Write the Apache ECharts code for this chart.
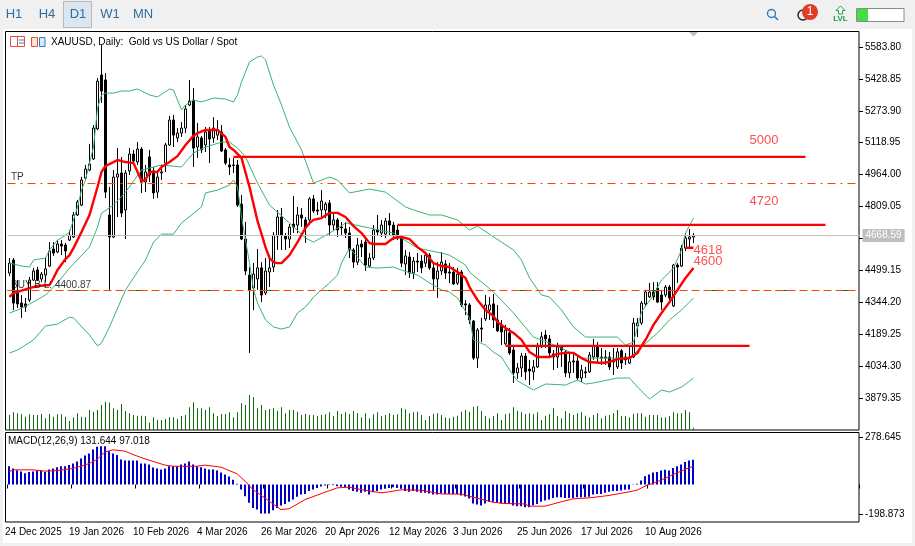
<!DOCTYPE html>
<html><head><meta charset="utf-8">
<style>html,body{margin:0;padding:0;background:#f0f0f0}#c{width:915px;height:546px}</style>
<script src="https://cdn.jsdelivr.net/npm/echarts@6/dist/echarts.min.js"></script>
</head><body><div id="c"></div>
<script>
// each row: open, close, low, high
const ohlc=[
[4486,4534,4471,4559],[4549,4340,4306,4559],[4394,4336,4316,4452],[4340,4321,4268,4379],[4336,4321,4297,4365],[4355,4452,4345,4467],[4452,4496,4447,4511],[4501,4452,4447,4516],[4457,4481,4442,4491],[4476,4506,4442,4559],
[4520,4593,4515,4636],[4603,4583,4569,4636],[4588,4627,4583,4646],[4627,4617,4573,4646],[4622,4593,4539,4632],[4646,4670,4641,4695],[4661,4768,4656,4782],[4768,4831,4763,4841],[4816,4938,4812,4953],[4947,4991,4938,5011],
[4986,5016,4981,5113],[5040,5190,5035,5205],[5186,5418,5181,5433],[5448,5370,5312,5593],[5424,4879,4850,5457],[4768,4661,4404,4904],[4661,4952,4656,4986],[4952,4967,4758,5093],[4972,4777,4758,5050],[4792,4972,4651,4986],
[4982,5064,4962,5093],[5064,5030,5011,5084],[5025,5088,5011,5122],[5088,4928,4875,5098],[4928,4977,4879,5011],[5050,4962,4928,5084],[4982,4875,4846,5001],[4879,4952,4850,4986],[4972,4977,4938,5011],[5020,5108,4977,5118],
[5108,5229,5103,5249],[5229,5156,5098,5254],[5142,5166,5122,5190],[5166,5190,5147,5219],[5190,5283,5166,5302],[5302,5321,5297,5424],[5326,5093,5001,5385],[5098,5147,5045,5215],[5142,5084,5069,5152],[5108,5171,5074,5195],
[5181,5137,5020,5195],[5142,5190,5118,5243],[5156,5181,5132,5229],[5171,5079,5074,5205],[5084,5020,5011,5093],[5011,5001,4962,5045],[5008,5011,4972,5045],[5011,4816,4807,5035],[4821,4651,4646,4865],[4651,4496,4476,4734],
[4476,4404,4098,4515],[4413,4481,4306,4535],[4457,4511,4404,4603],[4511,4379,4345,4539],[4389,4496,4379,4559],[4491,4511,4418,4573],[4515,4670,4491,4685],[4666,4758,4598,4792],[4758,4670,4598,4802],[4666,4651,4598,4680],
[4651,4709,4608,4724],[4724,4709,4680,4860],[4719,4768,4680,4807],[4768,4753,4710,4802],[4744,4705,4632,4758],[4744,4846,4719,4855],[4846,4787,4777,4865],[4792,4787,4768,4831],[4792,4836,4753,4889],[4792,4821,4753,4831],
[4826,4719,4670,4841],[4719,4744,4690,4777],[4744,4695,4661,4753],[4710,4705,4666,4734],[4700,4680,4656,4734],[4680,4598,4559,4710],[4598,4539,4511,4607],[4539,4622,4525,4656],[4627,4612,4564,4646],[4636,4525,4496,4661],
[4520,4559,4511,4583],[4559,4695,4549,4719],[4695,4685,4670,4768],[4680,4719,4661,4744],[4675,4739,4656,4753],[4739,4719,4670,4777],[4719,4670,4646,4734],[4695,4656,4646,4719],[4656,4534,4515,4666],[4530,4569,4476,4598],
[4564,4486,4462,4588],[4486,4544,4457,4564],[4544,4539,4491,4583],[4544,4511,4486,4573],[4534,4573,4515,4588],[4573,4511,4501,4583],[4511,4457,4404,4539],[4457,4496,4365,4539],[4496,4539,4476,4588],[4530,4486,4457,4549],
[4491,4486,4437,4534],[4491,4433,4428,4515],[4437,4481,4428,4511],[4491,4331,4321,4501],[4336,4331,4282,4355],[4331,4258,4239,4340],[4253,4073,4064,4258],[4073,4209,4025,4219],[4219,4214,4151,4268],[4263,4331,4253,4379],
[4306,4331,4258,4370],[4336,4258,4219,4384],[4258,4205,4200,4331],[4234,4200,4137,4258],[4142,4209,4137,4234],[4195,4098,4088,4219],[4112,4001,3952,4137],[4001,4025,3972,4049],[4025,4083,3981,4098],[4083,4006,3966,4098],
[4020,4010,3942,4064],[4006,4030,3966,4064],[4030,4127,4025,4147],[4127,4176,4122,4200],[4185,4166,4122,4209],[4166,4098,4078,4185],[4093,4078,4015,4112],[4078,4127,4025,4147],[4127,4112,4030,4137],[4103,4001,3981,4112],
[4001,4054,3976,4103],[4059,4054,4001,4098],[4059,3976,3966,4078],[3976,4015,3957,4040],[4006,4001,3976,4030],[4006,4088,4001,4103],[4078,4132,4064,4166],[4132,4078,4054,4151],[4078,4073,4040,4122],[4073,4078,4040,4112],
[4078,4030,4015,4103],[4064,4054,3991,4122],[4030,4103,4020,4122],[4108,4049,4020,4117],[4078,4064,4040,4098],[4049,4078,4044,4137],[4078,4243,4073,4268],[4229,4243,4175,4268],[4243,4340,4234,4350],[4336,4394,4326,4404],
[4370,4394,4365,4438],[4394,4370,4355,4442],[4413,4345,4340,4442],[4379,4345,4306,4404],[4379,4418,4369,4428],[4418,4365,4355,4428],[4326,4525,4321,4530],[4525,4515,4438,4534],[4520,4607,4515,4622],[4607,4656,4593,4680],
[4651,4661,4612,4700],[4661,4668.59,4632,4680]];
// thousands of ticks
const volumes=[15,17.7,16.7,15.7,13.3,15.7,15,15,16,11.7,16,13.3,15.7,15.7,13.3,9,12.7,16.7,13.3,12.7,20,18.3,20,25,28.3,27.3,21.7,20,26,19,16.7,15,14.3,14.3,14,7.3,12.7,10,10,11,12.7,12.7,11,14,15,22.7,27.7,21.7,21.7,20,22.7,16.7,14,16,16,17.7,12.7,17.7,26.7,25,35,32.7,21.7,25,20,21,21.7,19.3,22.7,16.7,20,20,18.3,15,16,15,15,14,15,15.7,17.7,14,19,16,17.7,16,
19,16.7,12.7,16.7,11.7,15.7,17.7,14,15,16.7,15,15.7,21.7,20.7,16.7,17.7,18.3,15,10,14,16,16.7,15,12.7,11.7,13.3,14.3,18.3,20,18.3,23.3,24,19,14,11.7,14,16.7,10,15.7,16.7,22.7,19.3,17.7,16,16.7,15.7,17.7,10,14.3,15.7,21.7,14,11.7,19,16.7,15,16.7,17.7,14.3,12.7,15,16.7,11.7,14.3,15,16.7,20,14,14,12.7,16,16.7,16.7,13.3,15,15,15,12.7,12.7,14,17.7,16.7,16.7,20,17.7,2.3];
const macdHist=[97,85,76,69,60,67,69,74,74,67,80,85,92,97,97,103,111,122,138,154,165,186,200,203,203,177,165,156,133,127,127,127,127,111,111,106,90,85,80,85,97,97,97,106,111,122,106,97,92,85,80,80,74,64,53,42,25,4,
-27,-62,-97,-124,-133,-154,-154,-154,-136,-124,-111,-103,-92,-80,-65,-53,-50,-35,-27,-18,-11,-5,-2,-4,-9,-12,-14,-27,
-35,-39,-44,-39,-53,-41,-35,-27,-23,-18,-14,-18,-23,-35,-39,-35,-39,-44,-44,-48,-53,-53,-48,-50,-50,-50,-50,-58,-64,-74,-101,-106,-111,-101,-92,-92,-97,-101,-101,-103,-111,-115,-115,-120,-120,-110,-103,-92,-85,-80,-71,-67,-67,-71,-71,-71,-67,-67,-67,-65,-53,-50,-50,-44,-39,-35,-35,-32,-28,-27,
2,4,21,44,53,64,67,74,78,74,88,97,106,119,127,131.644];
// [bar number, value] vertices
const macdSignal=[[0,67],[1,78],[6,78],[9,71],[12,74],[16,85],[20,111],[22,133],[24,173],[26,184],[29,177],[31,159],[34,136],[39,103],[41,97],[47,97],[49,103],[53,92],[57,57],[59,18],[61,-27],[65,-88],[68,-133],[70,-129],[74,-80],[79,-41],[82,-18],[85,-14],[88,-27],[93,-44],[95,-39],[98,-28],[103,-30],[108,-50],[113,-51],[116,-67],[121,-94],[124,-101],[129,-103],[130,-115],[134,-115],[138,-92],[141,-76],[145,-71],[150,-58],[155,-39],[157,-30],[159,-9],[163,23],[166,53],[171,97.018]];
const maLine=[[0,4370],[1,4389],[2,4394],[5,4413],[7,4423],[10,4428],[11,4462],[12,4501],[14,4554],[15,4573],[16,4607],[18,4685],[20,4768],[22,4904],[23,4977],[24,5006],[26,5025],[27,5035],[29,5025],[31,5020],[33,4933],[34,4938],[35,4977],[37,4977],[38,5001],[40,5025],[42,5054],[44,5108],[46,5152],[47,5166],[49,5181],[52,5181],[54,5147],[55,5098],[56,5084],[58,5045],[60,4904],[62,4739],[64,4612],[65,4559],[66,4539],[67,4534],[68,4534],[70,4573],[72,4636],[74,4705],[75,4729],[76,4744],[78,4753],[80,4778],[82,4778],[84,4758],[86,4714],[88,4680],[90,4632],[91,4627],[94,4627],[96,4656],[98,4661],[100,4651],[102,4612],[104,4583],[106,4534],[108,4520],[110,4515],[112,4491],[114,4462],[115,4418],[117,4355],[119,4306],[121,4277],[122,4248],[124,4219],[126,4195],[128,4161],[130,4102],[132,4078],[135,4078],[137,4093],[139,4098],[141,4098],[143,4073],[145,4054],[148,4049],[150,4054],[152,4068],[155,4073],[157,4098],[158,4132],[159,4161],[161,4234],[163,4292],[165,4345],[167,4404],[169,4462],[171,4510]];
const bandUpper=[[0,4535],[3,4520],[5,4515],[6,4549],[9,4559],[10,4598],[12,4646],[14,4670],[15,4685],[16,4744],[17,4807],[18,4889],[19,4938],[20,5020],[21,5098],[22,5287],[23,5351],[24,5360],[26,5360],[28,5370],[30,5370],[32,5380],[35,5351],[37,5341],[40,5380],[41,5375],[43,5278],[44,5302],[46,5326],[48,5317],[51,5336],[54,5331],[56,5317],[57,5351],[58,5414],[60,5511],[62,5535],[63,5540],[64,5521],[66,5399],[68,5302],[70,5195],[73,5084],[76,4923],[80,4952],[82,4938],[85,4875],[90,4894],[94,4879],[99,4807],[101,4792],[105,4768],[108,4768],[112,4744],[115,4695],[117,4714],[123,4636],[126,4598],[128,4549],[130,4462],[133,4379],[135,4370],[138,4306],[141,4224],[144,4175],[152,4175],[154,4136],[156,4151],[158,4297],[161,4379],[163,4452],[166,4510],[168,4598],[169,4680],[171,4753]];
const bandMiddle=[[0,4292],[2,4306],[5,4335],[9,4379],[12,4438],[15,4510],[20,4612],[22,4709],[23,4777],[26,4816],[29,4879],[33,4986],[38,5011],[43,5001],[46,5069],[49,5098],[53,5122],[55,5122],[57,5093],[59,5050],[62,4923],[65,4816],[70,4729],[74,4656],[76,4636],[80,4680],[84,4729],[90,4705],[96,4680],[102,4607],[108,4583],[110,4573],[114,4525],[115,4491],[121,4394],[126,4292],[131,4175],[135,4146],[139,4112],[143,4073],[149,4073],[155,4073],[158,4127],[162,4195],[165,4258],[168,4306],[171,4365]];
const bandLower=[[0,4098],[2,4112],[6,4161],[9,4229],[12,4238],[15,4272],[16,4268],[20,4185],[22,4132],[23,4146],[25,4224],[29,4404],[34,4549],[36,4636],[38,4675],[41,4675],[43,4729],[48,4807],[49,4875],[52,4889],[55,4913],[56,4938],[57,4904],[58,4758],[60,4535],[61,4404],[62,4340],[64,4258],[66,4224],[68,4214],[70,4224],[72,4292],[74,4321],[76,4369],[78,4404],[80,4438],[82,4476],[83,4535],[85,4607],[87,4564],[89,4515],[92,4510],[96,4515],[98,4500],[102,4476],[105,4438],[108,4404],[110,4394],[112,4365],[115,4268],[116,4161],[119,4136],[121,4102],[123,4078],[125,4015],[127,3962],[131,3918],[134,3947],[139,3942],[142,3966],[144,3947],[146,3952],[152,3976],[155,3976],[157,3932],[160,3874],[163,3918],[165,3908],[168,3932],[171,3976]];
const level5000=[[56,5050],[199,5050]];
const level4720=[[97,4720],[204,4720]];
const level4130=[[124,4132],[185,4132]];
const level4618=[[169,4609],[171,4609]];
const levelLabels=[[185,5132,'5000'],[185,4836,'4720'],[171,4598,'4618'],[171,4544,'4600']];
const tradeLabels=[[0,4952,'TP'],[0,4428,'BUY B L: 4400.87']];
const priceTicks=[5583.80,5428.85,5273.90,5118.95,4964.00,4809.05,4654.10,4499.15,4344.20,4189.25,4034.30,3879.35];
const macdTickTexts=['278.645','-198.873'];
const macdTickPlaces=[252,-157];
const dateLabels=['24 Dec 2025','19 Jan 2026','10 Feb 2026','4 Mar 2026','26 Mar 2026','20 Apr 2026','12 May 2026','3 Jun 2026','25 Jun 2026','17 Jul 2026','10 Aug 2026'];
const lastPrice=4668.59, tpPrice=4921, buyPrice=4400.87;
const LABEL_EVERY=16, TOTAL_SLOTS=213;
const categories=Array.from({length:TOTAL_SLOTS},(_,i)=>i%LABEL_EVERY===0?(dateLabels[i/LABEL_EVERY]||''):'');

const FONT='"Liberation Sans",sans-serif';
const isTick=i=>i%LABEL_EVERY===0&&i/LABEL_EVERY<dateLabels.length;
const green='#3CB371', red='#FF0000';
const thin=(name,data)=>({name,type:'line',data,xAxisIndex:0,yAxisIndex:0,showSymbol:false,symbol:'none',silent:true,z:4,lineStyle:{color:green,width:1}});
const thick=(name,data,z)=>({name,type:'line',data,xAxisIndex:0,yAxisIndex:0,showSymbol:false,symbol:'none',silent:true,z:z||6,lineStyle:{color:red,width:2.4}});

const option={
 animation:false,backgroundColor:'#f0f0f0',
 title:[
  {text:'XAUUSD, Daily:  Gold vs US Dollar / Spot',left:51,top:37,padding:0,textStyle:{fontFamily:FONT,fontSize:10,fontWeight:'normal',color:'#000'}},
  {text:'MACD(12,26,9) 131.644 97.018',left:8,top:436,padding:0,textStyle:{fontFamily:FONT,fontSize:10,fontWeight:'normal',color:'#000'}}
 ],
 grid:[{left:7.5,top:32,width:852,height:398,containLabel:false},{left:7,top:432,width:852,height:90,containLabel:false}],
 xAxis:[
  {type:'category',gridIndex:0,data:categories,show:false},
  {type:'category',gridIndex:1,data:categories,axisLine:{show:false},
   axisTick:{show:true,interval:i=>isTick(i),length:4,lineStyle:{color:'#000'}},
   axisLabel:{interval:i=>isTick(i),align:'left',margin:5,padding:[0,0,0,-4],color:'#000',fontFamily:FONT,fontSize:10,hideOverlap:false,showMinLabel:true}}
 ],
 yAxis:[
  {type:'value',gridIndex:0,position:'right',offset:-0.5,min:3723.6,max:5656.7,splitLine:{show:false},axisLine:{show:false},
   axisTick:{show:true,customValues:priceTicks,length:4,lineStyle:{color:'#000'}},
   axisLabel:{customValues:priceTicks,margin:6,color:'#000',fontFamily:FONT,fontSize:10,formatter:v=>v.toFixed(2)}},
  {type:'value',gridIndex:0,show:false,min:0,max:398},
  {type:'value',gridIndex:1,position:'right',min:-198.873,max:278.645,splitLine:{show:false},axisLine:{show:false},
   axisTick:{show:true,customValues:macdTickPlaces,length:4,lineStyle:{color:'#000'}},
   axisLabel:{customValues:macdTickPlaces,margin:6,color:'#000',fontFamily:FONT,fontSize:10,formatter:v=>macdTickTexts[macdTickPlaces.indexOf(v)]}}
 ],
 series:[
  {name:'Volume',type:'bar',xAxisIndex:0,yAxisIndex:1,data:volumes,barWidth:1,silent:true,z:1,itemStyle:{color:'#0B6B0B'}},
  {name:'XAUUSD',type:'candlestick',xAxisIndex:0,yAxisIndex:0,data:ohlc,barWidth:3,silent:true,z:3,
   itemStyle:{color:'#fff',color0:'#000',borderColor:'#000',borderColor0:'#000',borderWidth:1},
   markLine:{silent:true,symbol:['none','none'],animation:false,
    data:[
     {yAxis:lastPrice,lineStyle:{color:'#C0C0C0',width:1,type:'solid'},
      label:{show:true,position:'end',distance:3,formatter:()=>lastPrice.toFixed(2),backgroundColor:'#BFBFBF',color:'#fff',fontFamily:FONT,fontSize:10,padding:[2,3,1,3]}},
     {yAxis:tpPrice,lineStyle:{color:'#FF4500',width:1,type:[8,5,2,5]},label:{show:false}},
     {yAxis:buyPrice,lineStyle:{color:'#0B6B0B',width:1,type:[12,52]},label:{show:false}},
     {yAxis:buyPrice,lineStyle:{color:'#FF4500',width:1,type:[8,4]},label:{show:false}}
    ]}},
  thin('Upper band',bandUpper),thin('Middle band',bandMiddle),thin('Lower band',bandLower),
  thick('MA',maLine,6),thick('Level 5000',level5000),thick('Level 4720',level4720),thick('Level 4130',level4130),thick('Level 4618',level4618),
  {name:'Labels',type:'scatter',xAxisIndex:0,yAxisIndex:0,silent:true,symbolSize:0,z:7,data:levelLabels.map(r=>({value:[r[0],r[1]],text:r[2]})),
   label:{show:true,position:'right',distance:0,color:'#F22',fontFamily:FONT,fontSize:13,formatter:p=>p.data.text}},
  {name:'Trade labels',type:'scatter',xAxisIndex:0,yAxisIndex:0,silent:true,symbolSize:0,z:7,data:tradeLabels.map(r=>({value:[r[0],r[1]],text:r[2]})),
   label:{show:true,position:'right',distance:1.5,color:'#000',fontFamily:FONT,fontSize:10,formatter:p=>p.data.text}},
  {name:'MACD',type:'bar',xAxisIndex:1,yAxisIndex:2,data:macdHist,barWidth:2,silent:true,z:2,itemStyle:{color:'#0000CD'}},
  {name:'Signal',type:'line',xAxisIndex:1,yAxisIndex:2,data:macdSignal,showSymbol:false,symbol:'none',silent:true,z:3,lineStyle:{color:red,width:1}}
 ],
 graphic:[
  {type:'rect',z:-10,silent:true,shape:{x:3,y:29,width:909,height:514},style:{fill:'#fff'}},
  {type:'rect',z:-9,silent:true,shape:{x:5.5,y:31.5,width:853.5,height:398.5},style:{fill:'#fff',stroke:'#000',lineWidth:1}},
  {type:'rect',z:-9,silent:true,shape:{x:5.5,y:432.5,width:853.5,height:89.5},style:{fill:'#fff',stroke:'#000',lineWidth:1}},
  // toolbar
  {type:'rect',z:-8,silent:true,shape:{x:63.5,y:1.5,width:28,height:26},style:{fill:'#DCE6F1',stroke:'#B8B8B8',lineWidth:1}},
  ...[['H1',14],['H4',47],['D1',78],['W1',110],['MN',143]].map(([t,x])=>({type:'text',z:50,silent:true,style:{text:t,x,y:14,align:'center',verticalAlign:'middle',fill:'#2E6E9E',font:'13px "Liberation Sans",sans-serif'}})),
  // chart header icons
  {type:'rect',z:50,silent:true,shape:{x:10.5,y:36.5,width:14,height:10},style:{fill:'#fff',stroke:'#E0503C',lineWidth:1}},
  {type:'line',z:50,silent:true,shape:{x1:17.5,y1:37,x2:17.5,y2:46},style:{stroke:'#E0503C'}},
  {type:'line',z:50,silent:true,shape:{x1:19,y1:40,x2:24,y2:40},style:{stroke:'#2E7BC0'}},
  {type:'line',z:50,silent:true,shape:{x1:19,y1:43,x2:24,y2:43},style:{stroke:'#2E7BC0'}},
  {type:'rect',z:50,silent:true,shape:{x:31.5,y:37.5,width:6,height:9},style:{fill:'#FCE4D8',stroke:'#E0503C',lineWidth:1}},
  {type:'rect',z:50,silent:true,shape:{x:39.5,y:37.5,width:5.5,height:9},style:{fill:'#D8EAF8',stroke:'#2E7BC0',lineWidth:1}},
  // indicator triangle
  {type:'polygon',z:50,silent:true,shape:{points:[[689,32],[698,32],[693.5,36.5]]},style:{fill:'#BDBDBD'}},
  // right side toolbar
  {type:'circle',z:50,silent:true,shape:{cx:771.5,cy:13.5,r:4},style:{fill:'none',stroke:'#2E7BC0',lineWidth:1.4}},
  {type:'line',z:50,silent:true,shape:{x1:774.5,y1:16.5,x2:778,y2:20},style:{stroke:'#2E7BC0',lineWidth:1.6}},
  {type:'circle',z:50,silent:true,shape:{cx:803,cy:15,r:5},style:{fill:'#f0f0f0',stroke:'#222',lineWidth:1.4}},
  {type:'circle',z:51,silent:true,shape:{cx:810,cy:12,r:8},style:{fill:'#E03C28'}},
  {type:'text',z:52,silent:true,style:{text:'1',x:810,y:12,align:'center',verticalAlign:'middle',fill:'#fff',font:'12px "Liberation Sans",sans-serif'}},
  {type:'polygon',z:50,silent:true,shape:{points:[[840.5,6],[845,10.5],[842.5,10.5],[842.5,14],[838.5,14],[838.5,10.5],[836,10.5]]},style:{fill:'#fff',stroke:'#1E9E3E',lineWidth:1}},
  {type:'text',z:50,silent:true,style:{text:'LVL',x:840.5,y:19,align:'center',verticalAlign:'middle',fill:'#1E9E3E',font:'bold 8px "Liberation Sans",sans-serif'}},
  {type:'rect',z:50,silent:true,shape:{x:856.5,y:8.5,width:47.5,height:13},style:{fill:'#fff',stroke:'#8A8A8A',lineWidth:1}},
  {type:'rect',z:51,silent:true,shape:{x:857,y:9,width:11,height:12},style:{fill:'#44DD44'}}
 ]
};
echarts.init(document.getElementById('c'),null,{renderer:'canvas',width:915,height:546}).setOption(option);
</script></body></html>
